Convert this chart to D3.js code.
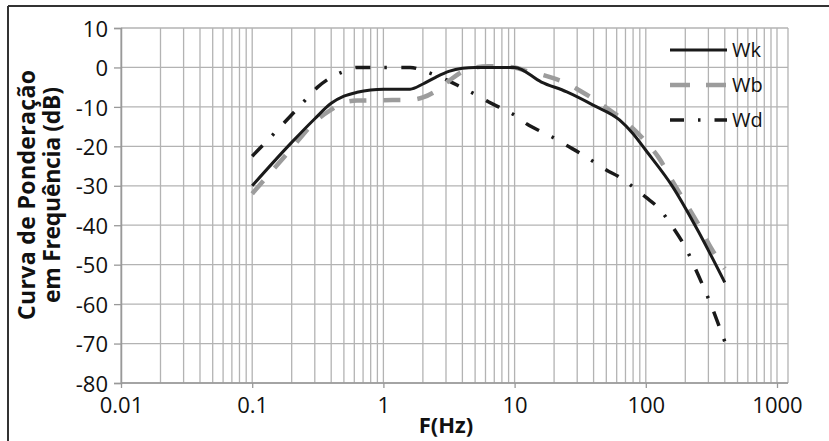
<!DOCTYPE html>
<html>
<head>
<meta charset="utf-8">
<script src="https://cdn.jsdelivr.net/npm/d3@7"></script>
<style>
  body { margin: 0; background: #fff; }
  svg { display: block; }
  text { font-family: "Open Sans", "Noto Sans", sans-serif; fill: #111; }
</style>
</head>
<body>
<div id="root"></div>
<script>
// chart data
const seriesNames = ['Wk', 'Wb', 'Wd'];

const wkFreq = [0.1, 0.2, 0.3, 0.4, 0.5, 0.63, 0.8, 1, 1.6, 2, 2.5, 3.15, 4, 5, 10, 16, 25, 40, 63, 80, 100, 160, 250, 400];
const wkDb   = [-30, -19, -13, -9.1, -7.3, -6.3, -5.7, -5.5, -5.5, -4.2, -2.5, -1, -0.2, 0, 0, -3.7, -6.2, -9.6, -13.3, -16.8, -21, -30.2, -41.4, -54.5];

const wbFreq = [0.1, 0.2, 0.3, 0.4, 0.5, 0.63, 1, 1.6, 2, 2.5, 3.15, 4, 5, 6.3, 8, 10, 12.5, 16, 20, 25, 31.5, 40, 50, 63, 80, 100, 125, 160, 200, 250, 315, 400];
const wbDb   = [-32, -20.5, -13.8, -10.7, -8.9, -8.4, -8.3, -8.2, -7.6, -6, -3.4, -1.1, 0, 0.3, 0.2, 0, -1, -1.8, -2.8, -4, -5.9, -8, -10.2, -12.6, -15.5, -18.8, -22.8, -28.9, -34.2, -39.6, -45.8, -51];

const wdFreq = [0.1, 0.2, 0.25, 0.315, 0.4, 0.5, 0.63, 1, 1.6, 2, 2.5, 3.15, 4, 5, 6.3, 8, 10, 12.5, 16, 20, 25, 31.5, 40, 50, 63, 80, 100, 125, 160, 200, 250, 315, 400];
const wdDb   = [-22.5, -12, -8.5, -5, -2.5, -1, 0, 0, 0, -0.8, -2, -3.4, -5.2, -6.8, -8.7, -10.4, -12.1, -14.4, -16.3, -17.9, -19.8, -21.7, -23.9, -26, -27.8, -30.3, -32.9, -35.6, -40.4, -45.6, -52.5, -60.3, -69.5];

const xTicks = [0.01, 0.1, 1, 10, 100, 1000];
const xTickLabels = ['0.01', '0.1', '1', '10', '100', '1000'];
const yTicks = [-80, -70, -60, -50, -40, -30, -20, -10, 0, 10];

const xTitle = 'F(Hz)';
const yTitle = ['Curva de Ponderação', 'em Frequência (dB)'];

buildGraph();

function buildGraph() {
    const w = 829;
    const h = 441;
    const left = 121, right = 788, top = 28, bottom = 383;

    const svg = d3.select('#root')
                    .append('svg')
                    .attr('width', w)
                    .attr('height', h);

    // frame of the figure (only top and left edges show)
    svg.append('line').attr('x1', 8).attr('x2', w).attr('y1', 6).attr('y2', 6)
        .attr('stroke', '#333').attr('stroke-width', 2);
    svg.append('line').attr('x1', 8).attr('x2', 8).attr('y1', 6).attr('y2', h)
        .attr('stroke', '#333').attr('stroke-width', 2);

    // -- scales
    const xScale = d3.scaleLog()
                        .domain([0.01, 1000])
                        .range([left, 777]);
    const yScale = d3.scaleLinear()
                        .domain([-80, 10])
                        .range([bottom, top]);

    // -- grid
    const minor = [];
    for (let e = -2; e < 3; e++) {
        for (let m = 1; m < 10; m++) minor.push(m * Math.pow(10, e));
    }
    minor.push(1000);

    const grid = svg.append('g').attr('stroke', '#b3b3b3').attr('stroke-width', 1.3);
    grid.selectAll('.vgrid')
        .data(minor)
        .enter()
        .append('line')
        .attr('class', 'vgrid')
        .attr('x1', d => xScale(d)).attr('x2', d => xScale(d))
        .attr('y1', top).attr('y2', bottom);
    grid.selectAll('.hgrid')
        .data(yTicks)
        .enter()
        .append('line')
        .attr('class', 'hgrid')
        .attr('x1', left).attr('x2', right)
        .attr('y1', d => yScale(d)).attr('y2', d => yScale(d));
    grid.append('line').attr('x1', right).attr('x2', right).attr('y1', top).attr('y2', bottom);

    // -- axes
    const xAxis = d3.axisBottom(xScale)
                    .tickValues(xTicks)
                    .tickFormat((d, i) => xTickLabels[i])
                    .tickSize(5)
                    .tickPadding(9);
    const yAxis = d3.axisLeft(yScale)
                    .tickValues(yTicks)
                    .tickFormat(d => String(d))   // plain hyphen, like the original
                    .tickSize(7)
                    .tickPadding(6);

    const gx = svg.append('g')
        .attr('transform', `translate(0,${bottom})`)
        .call(xAxis);
    gx.select('.domain').attr('d', `M${left},0H${right}`);
    const gy = svg.append('g')
        .attr('transform', `translate(${left},0)`)
        .call(yAxis);

    [gx, gy].forEach(g => {
        g.select('.domain').attr('stroke', '#999').attr('stroke-width', 1.5);
        g.selectAll('.tick line').attr('stroke', '#999').attr('stroke-width', 1.3);
        g.selectAll('.tick text')
            .attr('font-family', '"Open Sans", sans-serif')
            .attr('font-size', 22)
            .attr('fill', '#111');
    });
    gy.selectAll('.tick text').attr('dy', '0.37em');

    // -- titles
    svg.append('text')
        .attr('x', 446).attr('y', 433)
        .attr('text-anchor', 'middle')
        .attr('font-size', 22).attr('font-weight', 'bold')
        .text(xTitle);
    const yt = svg.append('text')
        .attr('transform', 'translate(0,195) rotate(-90)')
        .attr('text-anchor', 'middle')
        .attr('font-size', 23).attr('font-weight', 'bold');
    yt.selectAll('tspan')
        .data(yTitle)
        .enter()
        .append('tspan')
        .attr('x', 0)
        .attr('y', (d, i) => 35 + i * 25)
        .attr('textLength', (d, i) => i === 0 ? 250 : 216)
        .attr('lengthAdjust', 'spacing')
        .text(d => d);

    // -- curves
    const line = d3.line()
                    .x(d => xScale(d[0]))
                    .y(d => yScale(d[1]))
                    .curve(d3.curveMonotoneX);

    const styles = {
        Wk: { color: '#1a1a1a', width: 3, dash: null },
        Wb: { color: '#9c9c9c', width: 4.5, dash: '17 17' },
        Wd: { color: '#1a1a1a', width: 3.5, dash: '15 14 2.5 14.5' }
    };
    const series = [
        { name: 'Wk', pts: d3.zip(wkFreq, wkDb) },
        { name: 'Wb', pts: d3.zip(wbFreq, wbDb) },
        { name: 'Wd', pts: d3.zip(wdFreq, wdDb) }
    ];

    svg.selectAll('.curve')
        .data(series.slice().reverse())
        .enter()
        .append('path')
        .attr('class', 'curve')
        .attr('d', d => line(d.pts))
        .attr('fill', 'none')
        .attr('stroke', d => styles[d.name].color)
        .attr('stroke-width', d => styles[d.name].width)
        .attr('stroke-dasharray', d => styles[d.name].dash);

    // -- legend
    const legend = svg.append('g');
    seriesNames.forEach((name, i) => {
        const y = 50 + i * 35;
        legend.append('line')
            .attr('x1', 670).attr('x2', 727)
            .attr('y1', y).attr('y2', y)
            .attr('stroke', styles[name].color)
            .attr('stroke-width', styles[name].width)
            .attr('stroke-dasharray', name === 'Wb' ? '20 16' : (name === 'Wd' ? '14 14 2.5 14' : null));
        legend.append('text')
            .attr('x', 732).attr('y', y + 7)
            .attr('font-size', 20)
            .text(name);
    });
}
</script>
</body>
</html>
